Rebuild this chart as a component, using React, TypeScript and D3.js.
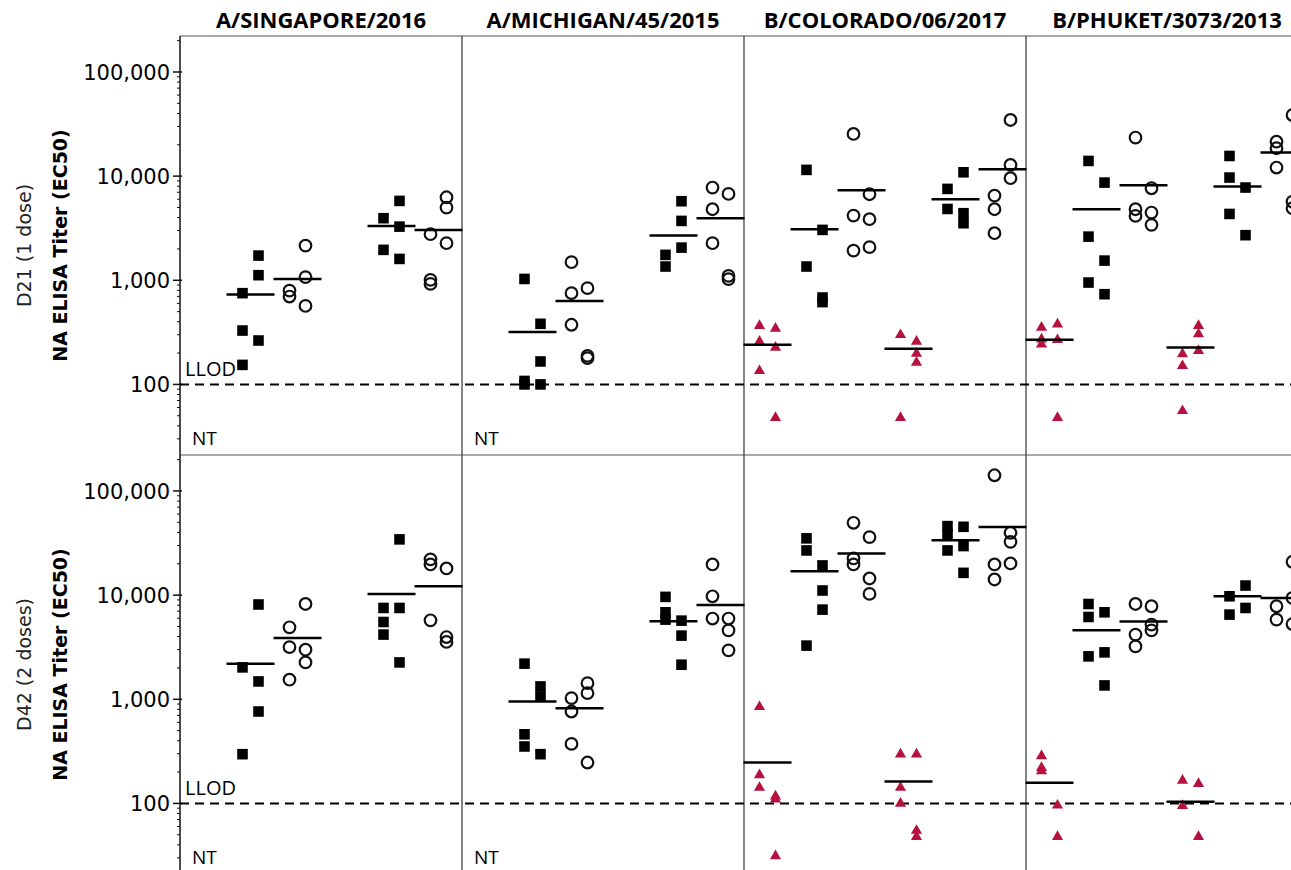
import React, { useRef, useEffect } from 'react';
import * as d3 from 'd3';

// panels (columns) and time points (rows)
const strains = ['A/SINGAPORE/2016', 'A/MICHIGAN/45/2015', 'B/COLORADO/06/2017', 'B/PHUKET/3073/2013'];
const dayLabels = ['D21 (1 dose)', 'D42 (2 doses)'];
const measureLabel = 'NA ELISA Titer (EC50)';
// marker used in each of the 6 columns of a panel
const groupShapes = ['triangle', 'square', 'circle', 'triangle', 'square', 'circle'];
const tickValues = [100, 1000, 10000, 100000];
const llod = 100;

// each group = [left column values, right column values]; null = not tested
const sgD21 = [null, [[752, 329, 154], [1726, 1119, 264]], [[796, 698], [2153, 1072, 567]], null, [[3945, 1959], [5781, 3274, 1603]], [[2769, 1009, 923], [6268, 4986, 2270]]];
const sgD21Med = [null, 730, 1026, null, 3324, 3046];
const miD21 = [null, [[1030, 108, 100], [382, 166, 100]], [[1492, 752, 374], [840, 188, 179]], null, [[1754, 1355], [5741, 3716, 2059]], [[7766, 4810, 2270], [6747, 1101, 1026]]];
const miD21Med = [null, 318, 634, null, 2686, 3946];
const coD21 = [[[374, 264, 138], [352, 231, 49]], [[11480, 1355], [3046, 683, 617]], [[25410, 4180, 1928], [6700, 3857, 2080]], [[306, 49], [264, 202, 166]], [[7540, 4840], [10880, 4406, 3530]], [[6500, 4810, 2831], [34600, 12800, 9550]]];
const coD21Med = [240, 3091, 7330, 220, 6000, 11650];
const phD21 = [[[360, 278, 249], [387, 274, 49]], [[13990, 2624, 951], [8670, 1545, 735]], [[23460, 4810, 4150], [7650, 4468, 3405]], [[200, 154, 57], [374, 311, 215]], [[15620, 9690, 4335], [7770, 2710]], [[21400, 18530, 12090], [38630, 5690, 4920]]];
const phD21Med = [268, 4810, 8180, 226, 7950, 16820];

const sgD42 = [null, [[2024, 297], [8130, 1483, 763]], [[4910, 3170, 1541], [8220, 2990, 2259]], null, [[7530, 5520, 4180], [34300, 7530, 2259]], [[22050, 19700, 5730], [18030, 3960, 3550]]];
const sgD42Med = [null, 2198, 3873, null, 10280, 12190];
const miD42 = [null, [[2198, 461, 352], [1328, 1064, 297]], [[1026, 763, 373], [1428, 1145, 247]], null, [[9620, 6840, 5820], [5690, 4085, 2148]], [[19700, 9750, 5960], [5960, 4590, 2950]]];
const miD42Med = [null, 953, 820, null, 5610, 8050];
const coD42 = [[[865, 192, 145], [120, 112, 32]], [[35100, 26860, 3275], [19280, 11080, 7260]], [[49500, 22490, 19700], [36060, 14450, 10280]], [[303, 145, 102], [303, 56, 49]], [[46000, 38300, 26860], [45300, 29580, 16370]], [[141600, 19700, 14130], [39700, 32500, 20140]]];
const coD42Med = [247, 16980, 25120, 162, 33560, 45090];
const phD42 = [[[292, 225, 209], [98, 49]], [[8220, 6170, 2582], [6840, 2820, 1358]], [[8220, 4180, 3220], [7820, 5210, 4590]], [[170, 97], [158, 49]], [[9750, 6500], [12360, 7530]], [[7820, 5820], [20900, 9400, 5280]]];
const phD42Med = [158, 4590, 5570, 104, 9750, 9400];

const rows = [
  { points: [sgD21, miD21, coD21, phD21], medians: [sgD21Med, miD21Med, coD21Med, phD21Med] },
  { points: [sgD42, miD42, coD42, phD42], medians: [sgD42Med, miD42Med, coD42Med, phD42Med] },
];

const App = () => {
  const svgRef = useRef(null);

  useEffect(() => {
    document.body.style.margin = '0';
    const width = 1291;
    const height = 870;
    const axisX = 180;
    const panelW = 282;
    const rowTop = [36, 455];
    const rowH = 419;
    const colOffset = [-8, 8];
    const red = '#b5123f';

    const svg = d3.select(svgRef.current);
    svg.selectAll('*').remove();
    svg.attr('width', width).attr('height', height);

    const panelX = d3.scaleBand().domain(strains).range([axisX, axisX + strains.length * panelW]);
    const slotX = d3.scaleBand().domain(d3.range(groupShapes.length)).range([0, panelW]);

    // titles
    svg.selectAll('.title')
      .data(strains)
      .enter()
      .append('text')
      .attr('x', d => panelX(d) + panelW / 2)
      .attr('y', 28)
      .attr('text-anchor', 'middle')
      .attr('font-family', '"Open Sans", sans-serif')
      .attr('font-weight', 'bold')
      .attr('font-size', 22)
      .attr('fill', '#000')
      .text(d => d);

    rows.forEach((row, r) => {
      const top = rowTop[r];
      const y = d3.scaleLog().domain([21, 221600]).range([top + rowH, top]);
      const g = svg.append('g');

      // frame lines
      g.append('line').attr('x1', axisX).attr('x2', width).attr('y1', top).attr('y2', top)
        .attr('stroke', '#555').attr('stroke-width', 1.2);
      strains.slice(1).forEach(s => {
        g.append('line').attr('x1', panelX(s)).attr('x2', panelX(s)).attr('y1', top).attr('y2', top + rowH)
          .attr('stroke', '#333').attr('stroke-width', 1.2);
      });
      g.append('line').attr('x1', axisX).attr('x2', axisX).attr('y1', top).attr('y2', top + rowH)
        .attr('stroke', '#111').attr('stroke-width', 1.5);

      // log ticks
      const minor = [];
      for (let e = 1; e <= 5; e++) {
        for (let k = 2; k <= 9; k++) {
          const v = k * Math.pow(10, e);
          if (v > 21 && v < 221600) minor.push(v);
        }
      }
      g.selectAll('.minor').data(minor).enter().append('line')
        .attr('x1', axisX - 3).attr('x2', axisX)
        .attr('y1', d => y(d)).attr('y2', d => y(d))
        .attr('stroke', '#111').attr('stroke-width', 1);
      g.selectAll('.major').data(tickValues).enter().append('line')
        .attr('x1', axisX - 7).attr('x2', axisX + 2)
        .attr('y1', d => y(d)).attr('y2', d => y(d))
        .attr('stroke', '#111').attr('stroke-width', 1.5);
      g.selectAll('.ticklabel').data(tickValues).enter().append('text')
        .attr('x', axisX - 10)
        .attr('y', d => y(d))
        .attr('dy', '0.36em')
        .attr('text-anchor', 'end')
        .attr('font-family', '"DejaVu Sans", sans-serif')
        .attr('font-size', 21)
        .attr('fill', '#000')
        .text(d => d3.format(',')(d));

      // axis titles
      const cy = top + rowH / 2;
      g.append('text')
        .attr('transform', `translate(67,${cy}) rotate(-90)`)
        .attr('text-anchor', 'middle')
        .attr('font-family', '"DejaVu Sans", sans-serif')
        .attr('font-weight', 'bold')
        .attr('font-size', 19)
        .attr('fill', '#000')
        .text(measureLabel);
      g.append('text')
        .attr('transform', `translate(31,${cy}) rotate(-90)`)
        .attr('text-anchor', 'middle')
        .attr('font-family', '"DejaVu Sans", sans-serif')
        .attr('font-size', 19)
        .attr('fill', '#222')
        .text(dayLabels[r]);

      // LLOD dashed line
      g.append('line').attr('x1', axisX).attr('x2', width).attr('y1', y(llod)).attr('y2', y(llod))
        .attr('stroke', '#000').attr('stroke-width', 2).attr('stroke-dasharray', '9,6');
      g.append('text')
        .attr('x', axisX + 5).attr('y', y(llod) - 8)
        .attr('font-family', '"Open Sans", sans-serif').attr('font-size', 20).attr('fill', '#000')
        .text('LLOD');

      strains.forEach((s, p) => {
        const x0 = panelX(s);
        const groups = row.points[p];
        const meds = row.medians[p];

        if (groups[0] === null) {
          g.append('text')
            .attr('x', x0 + 12).attr('y', top + rowH - 10)
            .attr('font-family', '"Open Sans", sans-serif').attr('font-size', 19).attr('fill', '#000')
            .text('NT');
        }

        groups.forEach((grp, gi) => {
          if (!grp) return;
          const cx = x0 + slotX(gi) + slotX.bandwidth() / 2;
          const shape = groupShapes[gi];
          const pts = [];
          grp.forEach((col, c) => col.forEach(v => pts.push({ x: cx + colOffset[c], v })));

          if (shape === 'circle') {
            g.selectAll(null).data(pts).enter().append('circle')
              .attr('cx', d => d.x).attr('cy', d => y(d.v)).attr('r', 5.8)
              .attr('fill', 'none').attr('stroke', '#111').attr('stroke-width', 2.2);
          } else {
            const sym = shape === 'square'
              ? d3.symbol().type(d3.symbolSquare).size(112)
              : d3.symbol().type(d3.symbolTriangle).size(54);
            g.selectAll(null).data(pts).enter().append('path')
              .attr('d', sym)
              .attr('transform', d => `translate(${d.x},${y(d.v) + (shape === 'triangle' ? 1 : 0)})`)
              .attr('fill', shape === 'square' ? '#000' : red);
          }

          // median line
          g.append('line')
            .attr('x1', cx - 24).attr('x2', cx + 24)
            .attr('y1', y(meds[gi])).attr('y2', y(meds[gi]))
            .attr('stroke', '#000').attr('stroke-width', 2.5);
        });
      });
    });
  }, []);

  return <svg ref={svgRef} style={{ display: 'block', background: '#fff' }} />;
};

export default App;
